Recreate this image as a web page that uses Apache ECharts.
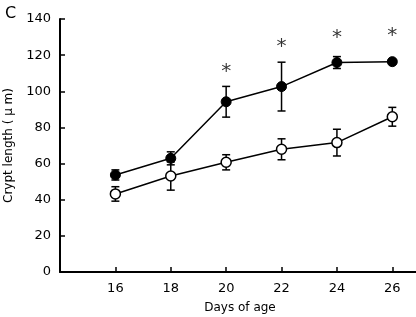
<!DOCTYPE html>
<html>
<head>
<meta charset="utf-8">
<script src="https://cdn.jsdelivr.net/npm/echarts@6/dist/echarts.min.js"></script>
<style>
  html, body { margin: 0; padding: 0; background: #fff; }
  #chart { width: 416px; height: 317px; }
</style>
</head>
<body>
<div id="chart"></div>
<script>
// days of age
const days = [16, 18, 20, 22, 24, 26]
// filled circles
const filledMean = [53.7, 62.9, 94.2, 102.6, 115.9, 116.4]
const filledErr = [2.8, 3.6, 8.5, 13.5, 3.3, 1.0]
// open circles
const openMean = [43.2, 53.1, 60.7, 67.9, 71.6, 85.9]
const openErr = [4.0, 7.8, 4.2, 5.8, 7.4, 5.2]
// significance marks
const starDays = [20, 22, 24, 26]
const starY = [111, 124.5, 129.5, 130.5]

let chartDom = document.getElementById('chart')
let myChart = echarts.init(chartDom)

function errSeries (mean, err) {
  return {
    type: 'custom',
    data: days.map((d, i) => [d, mean[i] - err[i], mean[i] + err[i]]),
    z: 1,
    silent: true,
    renderItem: function (params, api) {
      let lo = api.coord([api.value(0), api.value(1)])
      let hi = api.coord([api.value(0), api.value(2)])
      let w = 4
      let style = { stroke: '#000', lineWidth: 1.5 }
      return {
        type: 'group',
        children: [
          { type: 'line', shape: { x1: lo[0], y1: lo[1], x2: hi[0], y2: hi[1] }, style: style },
          { type: 'line', shape: { x1: lo[0] - w, y1: lo[1], x2: lo[0] + w, y2: lo[1] }, style: style },
          { type: 'line', shape: { x1: hi[0] - w, y1: hi[1], x2: hi[0] + w, y2: hi[1] }, style: style }
        ]
      }
    }
  }
}

let option = {
  animation: false,
  grid: { left: 60, right: -4, top: 19, bottom: 45, outerBoundsMode: 'none', containLabel: false },
  title: {
    text: 'C',
    left: 0,
    top: 1,
    textStyle: { fontSize: 16, fontWeight: 'normal', color: '#000', fontFamily: 'DejaVu Sans' }
  },
  xAxis: {
    type: 'value',
    min: 14,
    max: 27,
    interval: 2,
    name: 'Days of age',
    nameLocation: 'middle',
    nameGap: 30,
    nameTextStyle: { fontSize: 12, color: '#000', fontFamily: 'DejaVu Sans' },
    axisLine: { lineStyle: { color: '#000', width: 2 } },
    axisTick: { inside: true, length: 5, lineStyle: { color: '#000', width: 1.5 } },
    axisLabel: {
      showMaxLabel: false,
      margin: 10,
      fontSize: 13,
      color: '#000',
      fontFamily: 'DejaVu Sans',
      formatter: v => (v === 14 ? '' : String(v))
    },
    splitLine: { show: false }
  },
  yAxis: {
    type: 'value',
    min: 0,
    max: 140,
    interval: 20,
    name: 'Crypt length ( \u03bc m)',
    nameLocation: 'middle',
    nameGap: 45,
    nameTextStyle: { fontSize: 12, color: '#000', fontFamily: 'DejaVu Sans' },
    axisLine: { show: true, lineStyle: { color: '#000', width: 2 } },
    axisTick: { show: true, inside: true, length: 5, lineStyle: { color: '#000', width: 1.5 } },
    axisLabel: { margin: 9, fontSize: 13, color: '#000', fontFamily: 'DejaVu Sans' },
    splitLine: { show: false }
  },
  series: [
    errSeries(filledMean, filledErr),
    errSeries(openMean, openErr),
    {
      type: 'line',
      data: days.map((d, i) => [d, filledMean[i]]),
      symbol: 'circle',
      symbolSize: 10,
      z: 3,
      lineStyle: { color: '#000', width: 1.5 },
      itemStyle: { color: '#000', borderColor: '#000', borderWidth: 1 }
    },
    {
      type: 'line',
      data: days.map((d, i) => [d, openMean[i]]),
      symbol: 'circle',
      symbolSize: 10,
      z: 3,
      lineStyle: { color: '#000', width: 1.5 },
      itemStyle: { color: '#fff', borderColor: '#000', borderWidth: 1.5 }
    },
    {
      type: 'scatter',
      data: starDays.map((d, i) => [d, starY[i]]),
      symbolSize: 1,
      itemStyle: { color: 'rgba(0,0,0,0)' },
      label: {
        show: true,
        position: 'inside',
        formatter: '*',
        fontSize: 20,
        color: '#000',
        fontFamily: 'DejaVu Sans'
      }
    }
  ]
}

myChart.setOption(option)
</script>
</body>
</html>
